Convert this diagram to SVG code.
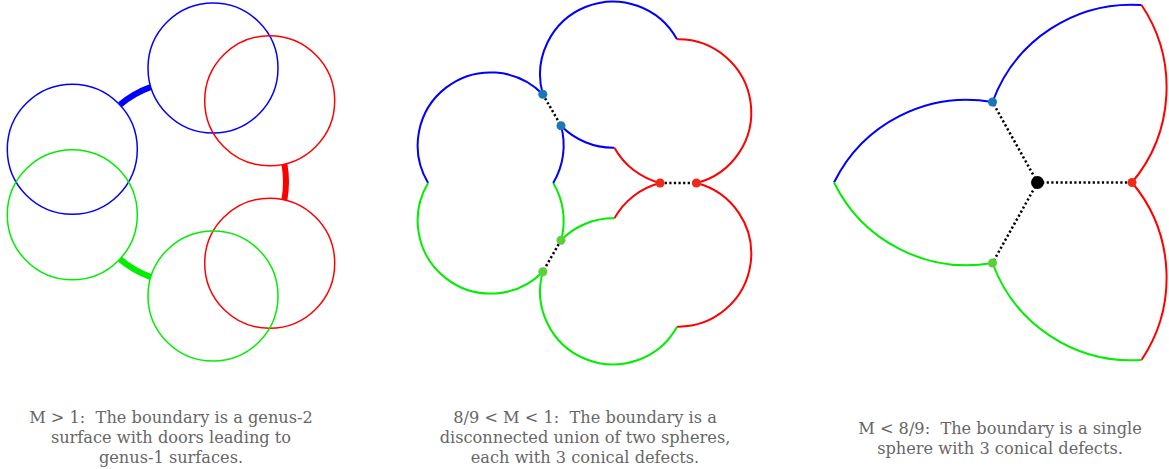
<svg xmlns="http://www.w3.org/2000/svg" width="1169" height="469" viewBox="0 0 1169 469">
<style>
.b{stroke:#0000ff}.r{stroke:#ff0000}.g{stroke:#00ee00}
.c1{fill:none;stroke-width:1.5}
.a2{fill:none;stroke-width:2}
.a3{fill:none;stroke-width:2}
.door{fill:none;stroke-width:6}
.dot{stroke:#000;stroke-width:2.5;stroke-dasharray:2.2 2.4;fill:none}
.cap{font-family:"DejaVu Serif","Liberation Serif",serif;font-size:16.2px;fill:#666;text-anchor:middle;white-space:pre}
</style>
<rect width="1169" height="469" fill="#fff"/>
<g id="connectors">
<path class="door b" d="M120.1,104.6 A101,101 0 0 1 150.5,87.1"/>
<path class="door r" d="M284.4,164.1 A101,101 0 0 1 284.4,199.9"/>
<path class="door g" d="M150.5,276.9 A101,101 0 0 1 120.1,259.4"/>
<path class="dot" d="M542.8,94.3 L561,125.75"/>
<path class="dot" d="M660.1,183 L696.4,183"/>
<path class="dot" d="M561,240.25 L542.8,271.7"/>
<path class="dot" d="M1037.5,182.5 L992.5,102"/>
<path class="dot" d="M1037.5,182.5 L1132,182.5"/>
<path class="dot" d="M1037.5,182.5 L992.5,263"/>
</g>
<g id="panel1">
<g id="p1-blue-top"><circle class="c1 b" cx="213" cy="68" r="65"/></g>
<g id="p1-blue-left"><circle class="c1 b" cx="72.3" cy="149.25" r="65"/></g>
<g id="p1-red-top"><circle class="c1 r" cx="269.7" cy="100.75" r="65"/></g>
<g id="p1-red-bottom"><circle class="c1 r" cx="269.7" cy="263.25" r="65"/></g>
<g id="p1-green-left"><circle class="c1 g" cx="72.3" cy="214.75" r="65"/></g>
<g id="p1-green-bottom"><circle class="c1 g" cx="213" cy="296" r="65"/></g>
</g>
<g id="panel2">
<g id="p2-outer">
<path class="a2 b" d="M428.1,183 A73,73 0 0 1 542.8,94.3"/>
<path class="a2 b" d="M542.8,94.3 A73,73 0 0 1 677,39.3"/>
<path class="a2 r" d="M677,39.3 A73,73 0 0 1 696.4,183"/>
<path class="a2 r" d="M696.4,183 A73,73 0 0 1 677,326.7"/>
<path class="a2 g" d="M677,326.7 A73,73 0 0 1 542.8,271.7"/>
<path class="a2 g" d="M542.8,271.7 A73,73 0 0 1 428.1,183"/>
</g>
<g id="p2-inner">
<path class="a2 b" d="M561,125.75 A73,73 0 0 0 614.4,147.7"/>
<path class="a2 r" d="M614.4,147.7 A73,73 0 0 0 660.1,183"/>
<path class="a2 r" d="M660.1,183 A73,73 0 0 0 614.4,218.3"/>
<path class="a2 g" d="M614.4,218.3 A73,73 0 0 0 561,240.25"/>
<path class="a2 g" d="M561,240.25 A73,73 0 0 0 553.2,183"/>
<path class="a2 b" d="M553.2,183 A73,73 0 0 0 561,125.75"/>
</g>
<g id="p2-dots">
<circle cx="542.8" cy="94.3" r="4.5" fill="#1a78b8"/>
<circle cx="561" cy="125.75" r="4.5" fill="#1a78b8"/>
<circle cx="660.1" cy="183" r="4.5" fill="#ee2a1a"/>
<circle cx="696.4" cy="183" r="4.5" fill="#ee2a1a"/>
<circle cx="561" cy="240.25" r="4.5" fill="#5ccf3c"/>
<circle cx="542.8" cy="271.7" r="4.5" fill="#5ccf3c"/>
</g>
</g>
<g id="panel3">
<g id="p3-sphere">
<path class="a3 b" d="M834,182.5 A148,148 0 0 1 992.5,102"/>
<path class="a3 b" d="M992.5,102 A148,148 0 0 1 1141.5,5"/>
<path class="a3 r" d="M1141.5,5 A148,148 0 0 1 1132,182.5"/>
<path class="a3 r" d="M1132,182.5 A148,148 0 0 1 1141.5,360"/>
<path class="a3 g" d="M1141.5,360 A148,148 0 0 1 992.5,263"/>
<path class="a3 g" d="M992.5,263 A148,148 0 0 1 834,182.5"/>
</g>
<g id="p3-dots">
<circle cx="992.5" cy="102" r="4.5" fill="#1a78b8"/>
<circle cx="1132" cy="182.5" r="4.5" fill="#ee2a1a"/>
<circle cx="992.5" cy="263" r="4.5" fill="#5ccf3c"/>
<circle cx="1037.5" cy="182.5" r="6.5" fill="#000"/>
</g>
</g>
<g id="captions">
<text class="cap" x="171" y="423">M &gt; 1:  The boundary is a genus-2</text>
<text class="cap" x="171" y="443">surface with doors leading to</text>
<text class="cap" x="171" y="463">genus-1 surfaces.</text>
<text class="cap" x="585" y="423">8/9 &lt; M &lt; 1:  The boundary is a</text>
<text class="cap" x="585" y="443">disconnected union of two spheres,</text>
<text class="cap" x="585" y="463">each with 3 conical defects.</text>
<text class="cap" x="1000" y="434">M &lt; 8/9:  The boundary is a single</text>
<text class="cap" x="1000" y="454">sphere with 3 conical defects.</text>
</g>
</svg>
